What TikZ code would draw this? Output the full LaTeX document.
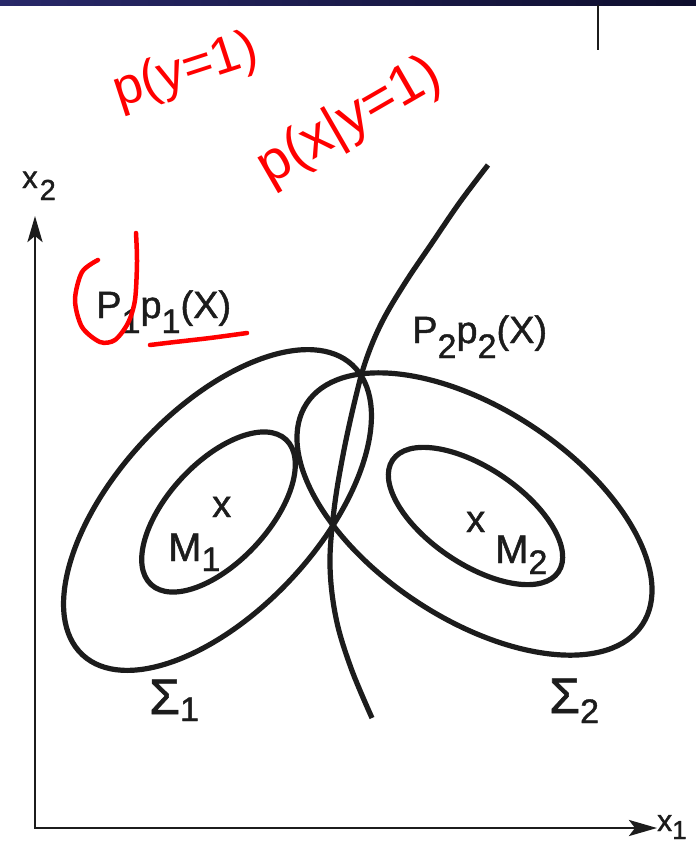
\documentclass[tikz,border=0pt]{standalone}
\usepackage{fontspec}
\setmainfont{Liberation Sans}
\newfontfamily\heavy[FakeBold=1.2]{Liberation Sans}
\usetikzlibrary{arrows.meta}
\definecolor{ink}{RGB}{28,28,28}
\definecolor{pen}{RGB}{255,0,0}
\definecolor{barL}{RGB}{40,40,105}
\definecolor{barR}{RGB}{14,14,45}
\newcommand\lsub[3]{\raisebox{-#1pt}{\fontsize{#2}{#2}\selectfont #3}}
\newcommand\fs[1]{\fontsize{#1}{#1}\selectfont}
\begin{document}
\begin{tikzpicture}[x=1pt,y=1pt,
  curve/.style={ink,line width=5.2pt},
  axis/.style={ink,line width=2.9pt},
  lbl/.style={inner sep=0pt,anchor=base west,text=ink,font=\heavy},
  redink/.style={pen,line width=4.5pt,line cap=round,line join=round},
  note/.style={pen,inner sep=0pt}]
\path[use as bounding box] (0,0) rectangle (696,-846);
\fill[white] (0,0) rectangle (696,-846);
\shade[left color=barL,right color=barR] (0,0) rectangle (696,-5.5);
\coordinate (t1) at (598,-5);
\coordinate (t2) at (598,-50);
\draw[ink,line width=2.8pt] (t1) -- (t2);

% axes
\coordinate (O) at (35,-828);
\coordinate (Y) at (35,-216);
\coordinate (X) at (657,-828);
\draw[axis,{Stealth[length=26pt,width=15pt,inset=6pt]}-{Stealth[length=28pt,width=16pt,inset=6pt]}] (Y) -- (O) -- (X);

% ellipses
\draw[curve,shift={(217.5,-510)},rotate=47] (0,0) ellipse [x radius=198, y radius=101];
\draw[curve,shift={(218.5,-512)},rotate=47] (0,0) ellipse [x radius=99, y radius=50];
\draw[curve,shift={(474.5,-514)},rotate=-33.4] (0,0) ellipse [x radius=201, y radius=105];
\draw[curve,shift={(475.5,-516)},rotate=-34] (0,0) ellipse [x radius=100, y radius=48];

% decision boundary
\draw[curve] plot[smooth,tension=0.6] coordinates {(488,-165) (460,-202) (432,-243) (405,-283) (382,-322) (366,-360) (355,-400) (343,-455) (334,-510) (330,-565) (336,-618) (351,-668) (372,-718)};

% labels
\node[lbl] (lx2) at (22,-188) {\fs{31}x\kern2pt\lsub{12}{29}{2}};
\node[lbl] (lP1) at (96,-318) {\fs{38}P\lsub{15}{34}{1}p\lsub{15}{34}{1}(X)};
\node[lbl] (lP2) at (412,-343) {\fs{38}P\lsub{15}{34}{2}p\lsub{15}{34}{2}(X)};
\node[lbl] (lM1) at (168,-561) {\fs{40}M\lsub{10}{34}{1}};
\node[lbl] (lm1) at (212,-517) {\fs{38}x};
\node[lbl] (lM2) at (495,-563) {\fs{40}M\lsub{11}{34}{2}};
\node[lbl] (lm2) at (466,-532) {\fs{38}x};
\node[lbl] (lS1) at (149,-714) {\fs{50}Σ\lsub{7}{34}{1}};
\node[lbl] (lS2) at (549,-713) {\fs{50}Σ\lsub{10}{34}{2}};
\node[lbl] (lx1) at (657,-831) {\fs{30}x\lsub{8}{26}{1}};

% red handwritten notes
\node[note,rotate=18] (n1) at (186,-72) {\fs{52}p(y=1)};
\node[note,rotate=30] (n2) at (350,-122) {\fs{56}p(x|y=1)};
\draw[redink] plot[smooth] coordinates {(98,-260) (82,-272) (75,-300) (82,-327) (100,-342) (115,-340) (128,-323) (135,-300) (137,-262) (136,-233)};
\draw[redink] plot[smooth] coordinates {(150,-345) (175,-342) (210,-338) (247,-333)};
\end{tikzpicture}
\end{document}
